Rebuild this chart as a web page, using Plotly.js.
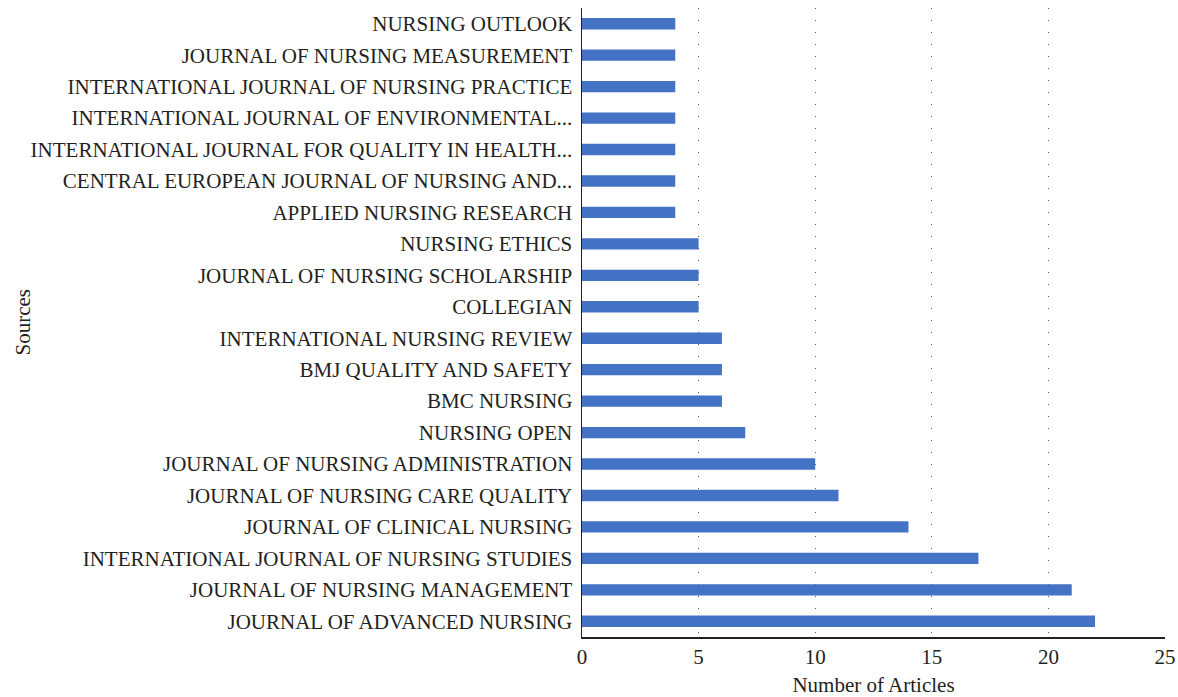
<!DOCTYPE html>
<html>
<head>
<meta charset="utf-8">
<script src="https://cdn.plot.ly/plotly-3.0.1.min.js"></script>
<style>html,body{margin:0;padding:0;background:#fff;}#chart{width:1178px;height:697px;}</style>
</head>
<body>
<div id="chart"></div>
<script>
const sources = [
  "JOURNAL OF ADVANCED NURSING",
  "JOURNAL OF NURSING MANAGEMENT",
  "INTERNATIONAL JOURNAL OF NURSING STUDIES",
  "JOURNAL OF CLINICAL NURSING",
  "JOURNAL OF NURSING CARE QUALITY",
  "JOURNAL OF NURSING ADMINISTRATION",
  "NURSING OPEN",
  "BMC NURSING",
  "BMJ QUALITY AND SAFETY",
  "INTERNATIONAL NURSING REVIEW",
  "COLLEGIAN",
  "JOURNAL OF NURSING SCHOLARSHIP",
  "NURSING ETHICS",
  "APPLIED NURSING RESEARCH",
  "CENTRAL EUROPEAN JOURNAL OF NURSING AND...",
  "INTERNATIONAL JOURNAL FOR QUALITY IN HEALTH...",
  "INTERNATIONAL JOURNAL OF ENVIRONMENTAL...",
  "INTERNATIONAL JOURNAL OF NURSING PRACTICE",
  "JOURNAL OF NURSING MEASUREMENT",
  "NURSING OUTLOOK"
];
const articles = [22, 21, 17, 14, 11, 10, 7, 6, 6, 6, 5, 5, 5, 4, 4, 4, 4, 4, 4, 4];
const xTicks = [0, 5, 10, 15, 20, 25];

const font = {family: "Liberation Serif, Times New Roman, serif", size: 21, color: "#231f20"};

Plotly.newPlot("chart", [{
  type: "bar",
  orientation: "h",
  x: articles,
  y: sources,
  marker: {color: "#4472c4"},
  hoverinfo: "x+y"
}], {
  width: 1178, height: 697,
  margin: {l: 582, r: 13, t: 8, b: 60},
  paper_bgcolor: "#fff", plot_bgcolor: "#fff",
  font: font,
  bargap: 0.64,
  showlegend: false,
  xaxis: {
    range: [0, 25],
    tickvals: xTicks,
    ticktext: xTicks.map(String),
    showgrid: true,
    gridcolor: "#555",
    gridwidth: 1,
    griddash: "1px,11px",
    zeroline: false,
    showline: true,
    linecolor: "#231f20",
    linewidth: 1.5,
    ticks: "",
    tickfont: font,
    title: {text: "Number of Articles", font: font, standoff: 14}
  },
  yaxis: {
    type: "category",
    range: [-0.5, 19.5],
    showgrid: false,
    zeroline: false,
    showline: true,
    linecolor: "#231f20",
    linewidth: 1.5,
    ticks: "",
    ticklabelstandoff: 4,
    tickfont: font
  },
  annotations: [{
    text: "Sources",
    xref: "paper", yref: "paper",
    x: (22 - 582) / 583, y: 0.5,
    xanchor: "center", yanchor: "middle",
    textangle: -90,
    showarrow: false,
    font: font
  }]
}, {displayModeBar: false, staticPlot: true});
</script>
</body>
</html>
